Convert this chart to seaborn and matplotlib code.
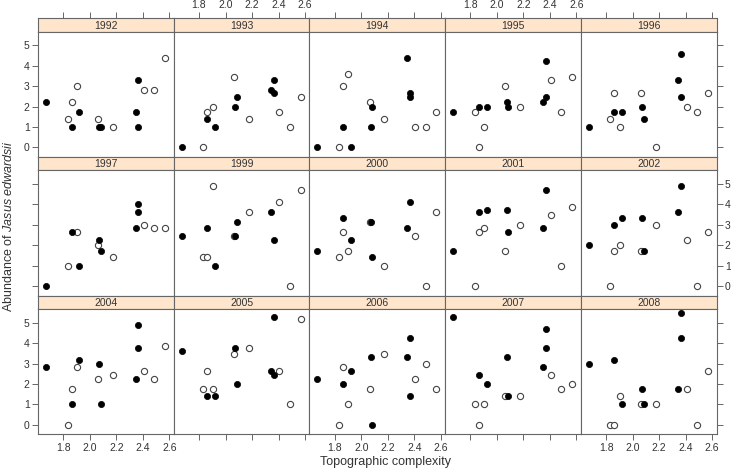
import numpy as np
import pandas as pd
import matplotlib.pyplot as plt
import seaborn as sns

# panel order (lattice style, 5 columns x 3 rows)
years = ['1992', '1993', '1994', '1995', '1996',
         '1997', '1999', '2000', '2001', '2002',
         '2004', '2005', '2006', '2007', '2008']

# topographic complexity of each site
filled_sites = [1.669, 1.862, 1.922, 2.073, 2.085, 2.345, 2.367, 2.367]
open_sites = [1.832, 1.862, 1.903, 2.063, 2.175, 2.407, 2.487, 2.568]

nan = np.nan
# abundance per year (rows follow `years`, columns follow the site lists)
filled_abund = [
    [2.24, 1.00, 1.73, 1.00, 1.00, 1.73, 3.32, 1.00],
    [0.00, 1.41, 1.00, 2.00, 2.45, 2.83, 3.32, 2.65],
    [0.00, 1.00, 0.00, 1.00, 2.00, 4.36, 2.65, 2.45],
    [1.73, 2.00, 2.00, 2.24, 2.00, 2.24, 4.24, 2.45],
    [1.00, 1.73, 1.73, 2.00, 1.41, 3.32, 4.58, 2.45],
    [0.00, 2.65, 1.00, 2.24, 1.73, 2.83, 3.61, 4.00],
    [2.45, 2.83, 1.00, 2.45, 3.16, 3.61, 2.24, nan],
    [1.73, 3.32, 2.24, 3.16, 1.41, 2.83, 4.12, nan],
    [1.73, 3.61, 3.74, 3.74, 2.65, 2.83, 4.69, nan],
    [2.00, 3.00, 3.32, 3.32, 1.73, 3.61, 4.90, nan],
    [2.83, 1.00, 3.16, 3.00, 1.00, 2.24, 3.74, 4.90],
    [3.61, 1.41, 1.41, 3.74, 2.00, 2.65, 2.45, 5.29],
    [2.24, 2.00, 2.65, 3.32, 0.00, 3.32, 4.24, 1.41],
    [5.29, 2.45, 2.00, 3.32, 1.41, 2.83, 3.74, 4.69],
    [3.00, 3.16, 1.00, 1.73, 1.00, 1.73, 4.24, 5.45],
]
open_abund = [
    [1.41, 2.24, 3.00, 1.41, 1.00, 2.83, 2.83, 4.36],
    [0.00, 1.73, 2.00, 3.46, 1.41, 1.73, 1.00, 2.45],
    [0.00, 3.00, 3.61, 2.24, 1.41, 1.00, 1.00, 1.73],
    [1.73, 0.00, 1.00, 3.00, 2.00, 3.32, 1.73, 3.46],
    [1.41, 2.65, 1.00, 2.65, 0.00, 2.00, 1.73, 2.65],
    [1.00, nan, 2.65, 2.00, 1.41, 3.00, 2.83, 2.83],
    [1.41, 1.41, 4.90, 2.45, 3.61, 4.12, 0.00, 4.69],
    [1.41, 2.65, 1.73, 3.16, 1.00, 2.45, 0.00, 3.61],
    [0.00, 2.65, 2.83, 1.73, 3.00, 3.46, 1.00, 3.87],
    [0.00, 1.73, 2.00, 1.73, 3.00, 2.24, 0.00, 2.65],
    [0.00, 1.73, 2.83, 2.24, 2.45, 2.65, 2.24, 3.87],
    [1.73, 2.65, 1.73, 3.46, 3.74, 2.65, 1.00, 5.20],
    [0.00, 2.83, 1.00, 1.73, 3.46, 2.24, 3.00, 1.73],
    [1.00, 0.00, 1.00, 1.41, 1.41, 2.45, 1.73, 2.00],
    [0.00, 0.00, 1.41, 1.00, 1.00, 1.73, 0.00, 2.65],
]

x_ticks = [1.8, 2.0, 2.2, 2.4, 2.6]
y_ticks = [0, 1, 2, 3, 4, 5]

# long format table
rows = []
for i, yr in enumerate(years):
    for x, y in zip(filled_sites, filled_abund[i]):
        rows.append((yr, 'filled', x, y))
    for x, y in zip(open_sites, open_abund[i]):
        rows.append((yr, 'open', x, y))
df = pd.DataFrame(rows, columns=['year', 'group', 'complexity', 'abundance']).dropna()

sns.set_theme(style='white')
plt.rcParams['font.family'] = ['Liberation Sans', 'DejaVu Sans']
plt.rcParams['mathtext.fontset'] = 'custom'
plt.rcParams['mathtext.rm'] = 'Liberation Sans'
plt.rcParams['mathtext.it'] = 'Liberation Sans:italic'

line_col = '#666666'
text_col = '#333333'

W, H = 731, 469
x0, col_w = 38, 135.7
y0, strip_h, panel_h = 18.3, 13.3, 125.4
xlim = (1.609, 2.633)
ylim = (-0.47, 5.67)

fig = plt.figure(figsize=(W / 100, H / 100), dpi=100)

for i, yr in enumerate(years):
    r, c = divmod(i, 5)
    top = y0 + r * (strip_h + panel_h)
    left = (x0 + c * col_w) / W
    ax_s = fig.add_axes([left, 1 - (top + strip_h) / H, col_w / W, strip_h / H])
    ax = fig.add_axes([left, 1 - (top + strip_h + panel_h) / H, col_w / W, panel_h / H])

    sub = df[df['year'] == yr]
    sns.scatterplot(data=sub[sub['group'] == 'open'], x='complexity', y='abundance',
                    color='white', edgecolor='#444444', linewidth=0.8, s=20, ax=ax, zorder=3)
    sns.scatterplot(data=sub[sub['group'] == 'filled'], x='complexity', y='abundance',
                    color='black', edgecolor='black', linewidth=0.5, s=20, ax=ax, zorder=4)

    ax.set_xlim(xlim)
    ax.set_ylim(ylim)
    ax.set_xticks(x_ticks)
    ax.set_yticks(y_ticks)
    ax.set_xticklabels([f'{t:.1f}' for t in x_ticks])
    ax.set_xlabel('')
    ax.set_ylabel('')
    ax.tick_params(which='both', direction='out', length=4, width=0.7, color=line_col,
                   labelsize=7.5, labelcolor=text_col, pad=2,
                   bottom=False, top=False, left=False, right=False,
                   labelbottom=False, labeltop=False, labelleft=False, labelright=False)
    if r == 2:
        ax.tick_params(bottom=True, labelbottom=(c % 2 == 0))
    if c == 0:
        ax.tick_params(left=True, labelleft=(r != 1))
    if c == 4:
        ax.tick_params(right=True, labelright=(r == 1))
    for sp in ax.spines.values():
        sp.set_color(line_col)
        sp.set_linewidth(0.8)

    # strip with the year
    ax_s.set_facecolor('#ffe5cc')
    ax_s.set_xlim(xlim)
    ax_s.set_ylim(0, 1)
    ax_s.set_yticks([])
    ax_s.set_xticks(x_ticks)
    ax_s.set_xticklabels([f'{t:.1f}' for t in x_ticks])
    ax_s.tick_params(axis='x', direction='out', length=4, width=0.7, color=line_col,
                     labelsize=7.5, labelcolor=text_col, pad=2,
                     bottom=False, labelbottom=False,
                     top=(r == 0), labeltop=(r == 0 and c % 2 == 1))
    for sp in ax_s.spines.values():
        sp.set_color(line_col)
        sp.set_linewidth(0.8)
    ax_s.text(0.5, 0.45, yr, ha='center', va='center', fontsize=7.5,
              color=text_col, transform=ax_s.transAxes)

fig.text(386 / W, 1 - 467.5 / H, 'Topographic complexity', ha='center', va='bottom',
         fontsize=9, color=text_col)
fig.text(9 / W, 1 - 226 / H, r'Abundance of $\mathit{Jasus\ edwardsii}$', ha='center',
         va='center', rotation=90, fontsize=9, color=text_col)

fig.savefig('out.png', dpi=100)
